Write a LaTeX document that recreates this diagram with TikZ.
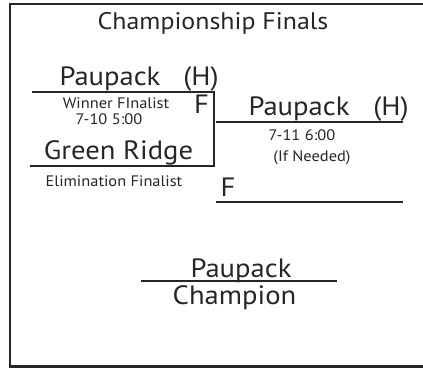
\documentclass[tikz,border=0pt]{standalone}
\usepackage{fontspec}
\setmainfont[FakeStretch=1.08]{PT Sans}
\begin{document}
\begin{tikzpicture}[x=1pt,y=-1pt,
  big/.style={inner sep=0pt,anchor=base,font=\fontsize{26.5}{26.5}\selectfont,text=black!85},
  small/.style={inner sep=0pt,anchor=base,font=\fontsize{15.2}{15.2}\selectfont,text=black!85},
  title/.style={inner sep=0pt,anchor=base,font=\fontsize{24}{24}\selectfont,text=black!85},
  bline/.style={line width=2pt,black!85},
  frame/.style={line width=2.2pt,black!85}]
\useasboundingbox (0,0) rectangle (423,368);
\clip (0,0) rectangle (423,368);
% frame
\coordinate (f1) at (430,4);
\coordinate (f2) at (10,4);
\coordinate (f3) at (10,366.5);
\coordinate (f4) at (430,366.5);
\draw[frame] (f1) -- (f2) -- (f3) -- (f4);
% title
\node[title] (title) at (213,29) {Championship Finals};
% first game
\node[big] (p1) at (110,85) {Paupack};
\node[big] (h1) at (201,85) {(H)};
\node[small] (wf) at (116,108) {Winner FInalist};
\node[small] (d1) at (109,124) {7-10 5:00};
\node[big] (f1t) at (201.5,113) {F};
\node[big] (gr) at (118.5,159) {Green Ridge};
\node[small] (ef) at (114,186) {Elimination Finalist};
\coordinate (a1) at (32,92);
\coordinate (a2) at (214,92);
\coordinate (a3) at (214,165.5);
\coordinate (a4) at (30,165.5);
\draw[bline] (a1) -- (a2) -- (a3) -- (a4);
% second game
\node[big] (p2) at (299,115) {Paupack};
\node[big] (h2) at (391,115) {(H)};
\node[small] (d2) at (302,140) {7-11 6:00};
\node[small] (ifn) at (312,161) {(If Needed)};
\node[big] (f2t) at (228,196) {F};
\coordinate (b1) at (216,121.5);
\coordinate (b2) at (403,121.5);
\draw[bline] (b1) -- (b2);
\coordinate (c1) at (216,201.5);
\coordinate (c2) at (403,201.5);
\draw[bline] (c1) -- (c2);
% champion
\node[big] (p3) at (241,277) {Paupack};
\node[big] (ch) at (234.5,304) {Champion};
\coordinate (e1) at (141,281);
\coordinate (e2) at (337,281);
\draw[bline] (e1) -- (e2);
\end{tikzpicture}
\end{document}
